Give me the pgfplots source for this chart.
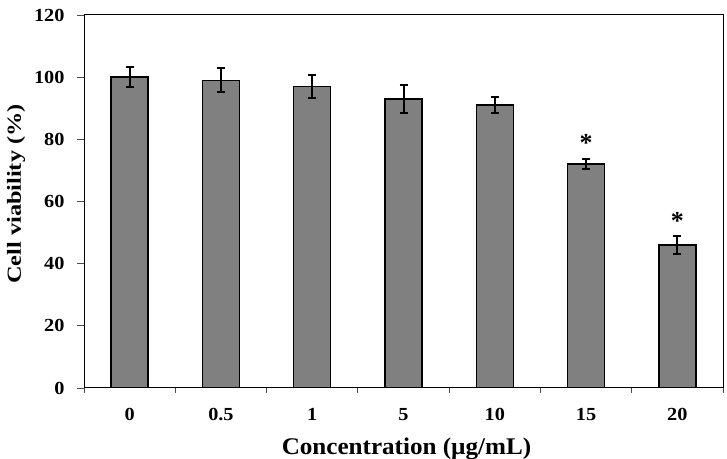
\documentclass[border=0pt]{standalone}
\usepackage{fontspec}
\setmainfont{Liberation Serif}
\newfontfamily\tickfont{Liberation Serif}[FakeStretch=1.1]
\newfontfamily\xlabfont{Liberation Serif}[FakeStretch=1.05]
\newfontfamily\ylabfont{Liberation Serif}[FakeStretch=1.22]
\usepackage{pgfplots}
\pgfplotsset{compat=1.18}
\definecolor{barfill}{HTML}{808080}

\begin{document}
\begin{tikzpicture}[x=1bp,y=1bp]
\begin{axis}[
  at={(0,0)}, anchor=south west,
  scale only axis,
  width=639bp, height=373bp,
  xmin=-0.5, xmax=6.5,
  ymin=0, ymax=120,
  ytick={0,20,...,120},
  xtick={0,...,6},
  xticklabels={0,0.5,1,5,10,15,20},
  minor xtick={-0.5,0.5,...,6.5},
  major x tick style={draw=none},
  minor tick length=5bp,
  major tick length=7bp,
  tick align=outside,
  xtick pos=bottom, ytick pos=left,
  axis line style={black, line width=1pt},
  tick style={black!70, line width=0.8pt},
  /pgf/number format/assume math mode=true,
  ticklabel style={font=\tickfont\fontsize{18.5}{18.5}\selectfont\bfseries},
  xticklabel style={anchor=base, yshift=-26bp},
  yticklabel style={xshift=-9bp},
  xlabel={Concentration (µg/mL)},
  ylabel={Cell viability (\%)},
  xlabel style={font=\xlabfont\fontsize{24}{24}\selectfont\bfseries,
    at={(axis description cs:0.5,0)}, anchor=base, yshift=-66.5bp, xshift=3bp},
  ylabel style={font=\ylabfont\fontsize{20}{20}\selectfont\bfseries,
    at={(axis description cs:-0.1064,0.52)}, anchor=center},
]
\addplot[ybar, bar width=37bp, fill=barfill, draw=black, line width=1.4pt,
  error bars/.cd, y dir=both, y explicit,
  error bar style={line width=2pt, black},
  error mark options={rotate=90, mark size=4bp, line width=2pt}]
  coordinates {
    (0,100) +- (0,3.2)
    (1,99)  +- (0,3.8)
    (2,97)  +- (0,3.7)
    (3,93)  +- (0,4.4)
    (4,91)  +- (0,2.5)
    (5,72)  +- (0,1.6)
    (6,46)  +- (0,3.0)
  };
% significance markers
\addplot[draw=none, mark=none, nodes near coords={*},
  every node near coord/.append style={anchor=center, yshift=-3bp,
    font=\fontsize{26}{26}\selectfont\bfseries}]
  coordinates {(5,79.8) (6,54.8)};
\end{axis}
\pgfresetboundingbox
\useasboundingbox (-84,-71) rectangle (643,388);
\end{tikzpicture}
\end{document}
